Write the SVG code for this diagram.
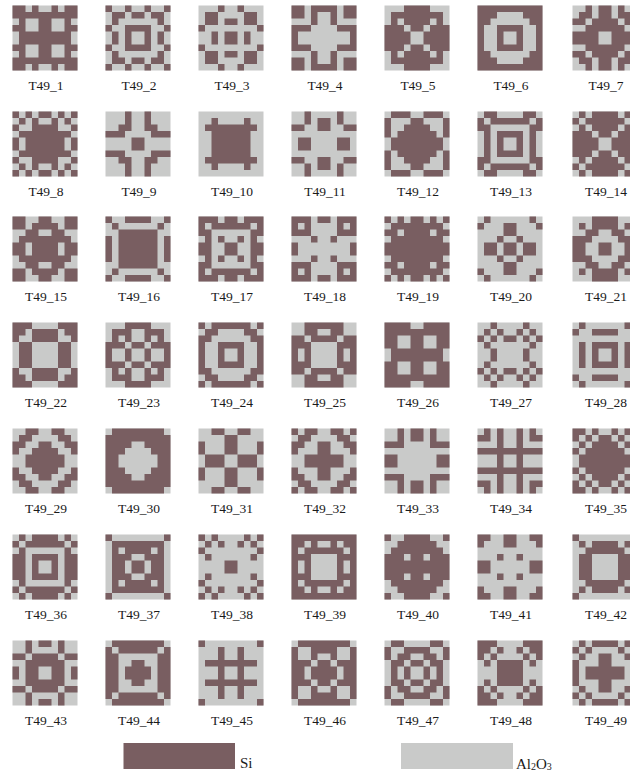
<svg xmlns="http://www.w3.org/2000/svg" xmlns:xlink="http://www.w3.org/1999/xlink" width="630" height="773" viewBox="0 0 630 773">
<style>
.b{fill:#c9cac9}
.s{fill:#795e61}
.lbl{font-family:"Liberation Serif","Times New Roman",serif;font-size:13.5px;text-anchor:middle;fill:#1a1a1a}
.leg{font-family:"Liberation Serif","Times New Roman",serif;font-size:15px;fill:#1a1a1a}
</style>
<rect width="630" height="773" fill="#ffffff"/>
<g id="tiles">
<g id="T49_1"><g transform="translate(12.5 5.5) scale(6.5)"><rect class="b" width="10" height="10"/><path id="q1" class="s" d="M0 0h2v1h-2zM3 0h1v1h-1zM0 1h5v1h-5zM1 2h1v1h-1zM4 2h1v1h-1zM0 3h2v1h-2zM4 3h1v1h-1zM1 4h4v1h-4z"/><use href="#q1" transform="matrix(-1 0 0 1 10 0)"/><use href="#q1" transform="matrix(1 0 0 -1 0 10)"/><use href="#q1" transform="matrix(-1 0 0 -1 10 10)"/></g><text class="lbl" x="46" y="89.5">T49_1</text></g>
<g id="T49_2"><g transform="translate(105.5 5.5) scale(6.5)"><rect class="b" width="10" height="10"/><path id="q2" class="s" d="M0 0h1v1h-1zM3 0h1v1h-1zM1 1h2v1h-2zM4 1h1v1h-1zM1 2h1v1h-1zM0 3h1v1h-1zM3 3h2v1h-2zM1 4h1v1h-1zM3 4h1v1h-1z"/><use href="#q2" transform="matrix(-1 0 0 1 10 0)"/><use href="#q2" transform="matrix(1 0 0 -1 0 10)"/><use href="#q2" transform="matrix(-1 0 0 -1 10 10)"/></g><text class="lbl" x="139" y="89.5">T49_2</text></g>
<g id="T49_3"><g transform="translate(198.5 5.5) scale(6.5)"><rect class="b" width="10" height="10"/><path id="q3" class="s" d="M3 0h1v1h-1zM1 1h2v1h-2zM1 2h2v1h-2zM4 2h1v1h-1zM0 3h1v1h-1zM2 4h1v1h-1zM4 4h1v1h-1z"/><use href="#q3" transform="matrix(-1 0 0 1 10 0)"/><use href="#q3" transform="matrix(1 0 0 -1 0 10)"/><use href="#q3" transform="matrix(-1 0 0 -1 10 10)"/></g><text class="lbl" x="232" y="89.5">T49_3</text></g>
<g id="T49_4"><g transform="translate(291.5 5.5) scale(6.5)"><rect class="b" width="10" height="10"/><path id="q4" class="s" d="M0 0h2v1h-2zM3 0h2v1h-2zM0 1h2v1h-2zM3 1h1v1h-1zM3 2h1v1h-1zM0 3h3v1h-3zM0 4h1v1h-1z"/><use href="#q4" transform="matrix(-1 0 0 1 10 0)"/><use href="#q4" transform="matrix(1 0 0 -1 0 10)"/><use href="#q4" transform="matrix(-1 0 0 -1 10 10)"/></g><text class="lbl" x="325" y="89.5">T49_4</text></g>
<g id="T49_5"><g transform="translate(384.5 5.5) scale(6.5)"><rect class="b" width="10" height="10"/><path id="q5" class="s" d="M3 0h2v1h-2zM1 1h4v1h-4zM1 2h1v1h-1zM3 2h2v1h-2zM0 3h3v1h-3zM4 3h1v1h-1zM0 4h4v1h-4z"/><use href="#q5" transform="matrix(-1 0 0 1 10 0)"/><use href="#q5" transform="matrix(1 0 0 -1 0 10)"/><use href="#q5" transform="matrix(-1 0 0 -1 10 10)"/></g><text class="lbl" x="418" y="89.5">T49_5</text></g>
<g id="T49_6"><g transform="translate(477.5 5.5) scale(6.5)"><rect class="b" width="10" height="10"/><path id="q6" class="s" d="M0 0h5v1h-5zM0 1h3v1h-3zM0 2h2v1h-2zM0 3h1v1h-1zM3 3h2v1h-2zM0 4h1v1h-1zM3 4h1v1h-1z"/><use href="#q6" transform="matrix(-1 0 0 1 10 0)"/><use href="#q6" transform="matrix(1 0 0 -1 0 10)"/><use href="#q6" transform="matrix(-1 0 0 -1 10 10)"/></g><text class="lbl" x="511" y="89.5">T49_6</text></g>
<g id="T49_7"><g transform="translate(572.5 5.5) scale(6.5)"><rect class="b" width="10" height="10"/><path id="q7" class="s" d="M2 0h1v1h-1zM4 0h1v1h-1zM1 1h2v1h-2zM4 1h1v1h-1zM0 2h2v1h-2zM3 2h2v1h-2zM2 3h3v1h-3zM0 4h4v1h-4z"/><use href="#q7" transform="matrix(-1 0 0 1 10 0)"/><use href="#q7" transform="matrix(1 0 0 -1 0 10)"/><use href="#q7" transform="matrix(-1 0 0 -1 10 10)"/></g><text class="lbl" x="606" y="89.5">T49_7</text></g>

<g id="T49_8"><g transform="translate(12.5 111.5) scale(6.5)"><rect class="b" width="10" height="10"/><path id="q8" class="s" d="M0 0h1v1h-1zM2 0h1v1h-1zM4 0h1v1h-1zM1 1h1v1h-1zM3 1h1v1h-1zM0 2h1v1h-1zM3 2h2v1h-2zM1 3h4v1h-4zM0 4h1v1h-1zM2 4h3v1h-3z"/><use href="#q8" transform="matrix(-1 0 0 1 10 0)"/><use href="#q8" transform="matrix(1 0 0 -1 0 10)"/><use href="#q8" transform="matrix(-1 0 0 -1 10 10)"/></g><text class="lbl" x="46" y="195.5">T49_8</text></g>
<g id="T49_9"><g transform="translate(105.5 111.5) scale(6.5)"><rect class="b" width="10" height="10"/><path id="q9" class="s" d="M3 0h1v1h-1zM3 1h1v1h-1zM2 2h2v1h-2zM0 3h3v1h-3zM4 4h1v1h-1z"/><use href="#q9" transform="matrix(-1 0 0 1 10 0)"/><use href="#q9" transform="matrix(1 0 0 -1 0 10)"/><use href="#q9" transform="matrix(-1 0 0 -1 10 10)"/></g><text class="lbl" x="139" y="195.5">T49_9</text></g>
<g id="T49_10"><g transform="translate(198.5 111.5) scale(6.5)"><rect class="b" width="10" height="10"/><path id="q10" class="s" d="M2 1h1v1h-1zM1 2h4v1h-4zM2 3h3v1h-3zM2 4h3v1h-3z"/><use href="#q10" transform="matrix(-1 0 0 1 10 0)"/><use href="#q10" transform="matrix(1 0 0 -1 0 10)"/><use href="#q10" transform="matrix(-1 0 0 -1 10 10)"/></g><text class="lbl" x="232" y="195.5">T49_10</text></g>
<g id="T49_11"><g transform="translate(291.5 111.5) scale(6.5)"><rect class="b" width="10" height="10"/><path id="q11" class="s" d="M2 0h1v1h-1zM2 1h1v1h-1zM4 1h1v1h-1zM0 2h2v1h-2zM4 2h1v1h-1zM1 4h2v1h-2z"/><use href="#q11" transform="matrix(-1 0 0 1 10 0)"/><use href="#q11" transform="matrix(1 0 0 -1 0 10)"/><use href="#q11" transform="matrix(-1 0 0 -1 10 10)"/></g><text class="lbl" x="325" y="195.5">T49_11</text></g>
<g id="T49_12"><g transform="translate(384.5 111.5) scale(6.5)"><rect class="b" width="10" height="10"/><path id="q12" class="s" d="M1 0h3v1h-3zM0 1h1v1h-1zM4 1h1v1h-1zM0 2h1v1h-1zM3 2h2v1h-2zM0 3h1v1h-1zM2 3h3v1h-3zM1 4h4v1h-4z"/><use href="#q12" transform="matrix(-1 0 0 1 10 0)"/><use href="#q12" transform="matrix(1 0 0 -1 0 10)"/><use href="#q12" transform="matrix(-1 0 0 -1 10 10)"/></g><text class="lbl" x="418" y="195.5">T49_12</text></g>
<g id="T49_13"><g transform="translate(477.5 111.5) scale(6.5)"><rect class="b" width="10" height="10"/><path id="q13" class="s" d="M1 0h2v1h-2zM0 1h1v1h-1zM2 1h3v1h-3zM0 2h2v1h-2zM1 3h1v1h-1zM3 3h2v1h-2zM1 4h1v1h-1zM3 4h1v1h-1z"/><use href="#q13" transform="matrix(-1 0 0 1 10 0)"/><use href="#q13" transform="matrix(1 0 0 -1 0 10)"/><use href="#q13" transform="matrix(-1 0 0 -1 10 10)"/></g><text class="lbl" x="511" y="195.5">T49_13</text></g>
<g id="T49_14"><g transform="translate(572.5 111.5) scale(6.5)"><rect class="b" width="10" height="10"/><path id="q14" class="s" d="M1 0h1v1h-1zM3 0h2v1h-2zM0 1h1v1h-1zM2 1h3v1h-3zM1 2h1v1h-1zM3 2h2v1h-2zM0 3h3v1h-3zM4 3h1v1h-1zM0 4h4v1h-4z"/><use href="#q14" transform="matrix(-1 0 0 1 10 0)"/><use href="#q14" transform="matrix(1 0 0 -1 0 10)"/><use href="#q14" transform="matrix(-1 0 0 -1 10 10)"/></g><text class="lbl" x="606" y="195.5">T49_14</text></g>

<g id="T49_15"><g transform="translate(12.5 216.5) scale(6.5)"><rect class="b" width="10" height="10"/><path id="q15" class="s" d="M0 0h2v1h-2zM4 0h1v1h-1zM0 1h2v1h-2zM3 1h2v1h-2zM2 2h2v1h-2zM1 3h4v1h-4zM0 4h2v1h-2zM3 4h2v1h-2z"/><use href="#q15" transform="matrix(-1 0 0 1 10 0)"/><use href="#q15" transform="matrix(1 0 0 -1 0 10)"/><use href="#q15" transform="matrix(-1 0 0 -1 10 10)"/></g><text class="lbl" x="46" y="300.5">T49_15</text></g>
<g id="T49_16"><g transform="translate(105.5 216.5) scale(6.5)"><rect class="b" width="10" height="10"/><path id="q16" class="s" d="M0 0h1v1h-1zM3 0h2v1h-2zM1 1h1v1h-1zM2 2h3v1h-3zM0 3h1v1h-1zM2 3h3v1h-3zM0 4h1v1h-1zM2 4h3v1h-3z"/><use href="#q16" transform="matrix(-1 0 0 1 10 0)"/><use href="#q16" transform="matrix(1 0 0 -1 0 10)"/><use href="#q16" transform="matrix(-1 0 0 -1 10 10)"/></g><text class="lbl" x="139" y="300.5">T49_16</text></g>
<g id="T49_17"><g transform="translate(198.5 216.5) scale(6.5)"><rect class="b" width="10" height="10"/><path id="q17" class="s" d="M0 0h3v1h-3zM4 0h1v1h-1zM0 1h1v1h-1zM2 1h3v1h-3zM0 2h2v1h-2zM1 3h1v1h-1zM3 3h1v1h-1zM0 4h2v1h-2zM4 4h1v1h-1z"/><use href="#q17" transform="matrix(-1 0 0 1 10 0)"/><use href="#q17" transform="matrix(1 0 0 -1 0 10)"/><use href="#q17" transform="matrix(-1 0 0 -1 10 10)"/></g><text class="lbl" x="232" y="300.5">T49_17</text></g>
<g id="T49_18"><g transform="translate(291.5 216.5) scale(6.5)"><rect class="b" width="10" height="10"/><path id="q18" class="s" d="M0 0h3v1h-3zM4 0h1v1h-1zM0 1h1v1h-1zM2 1h1v1h-1zM0 2h3v1h-3zM3 3h1v1h-1zM0 4h1v1h-1z"/><use href="#q18" transform="matrix(-1 0 0 1 10 0)"/><use href="#q18" transform="matrix(1 0 0 -1 0 10)"/><use href="#q18" transform="matrix(-1 0 0 -1 10 10)"/></g><text class="lbl" x="325" y="300.5">T49_18</text></g>
<g id="T49_19"><g transform="translate(384.5 216.5) scale(6.5)"><rect class="b" width="10" height="10"/><path id="q19" class="s" d="M0 0h1v1h-1zM2 0h1v1h-1zM4 0h1v1h-1zM1 1h4v1h-4zM0 2h2v1h-2zM3 2h2v1h-2zM1 3h4v1h-4zM0 4h5v1h-5z"/><use href="#q19" transform="matrix(-1 0 0 1 10 0)"/><use href="#q19" transform="matrix(1 0 0 -1 0 10)"/><use href="#q19" transform="matrix(-1 0 0 -1 10 10)"/></g><text class="lbl" x="418" y="300.5">T49_19</text></g>
<g id="T49_20"><g transform="translate(477.5 216.5) scale(6.5)"><rect class="b" width="10" height="10"/><path id="q20" class="s" d="M1 0h1v1h-1zM0 1h1v1h-1zM4 1h1v1h-1zM4 2h1v1h-1zM3 3h1v1h-1zM1 4h2v1h-2zM4 4h1v1h-1z"/><use href="#q20" transform="matrix(-1 0 0 1 10 0)"/><use href="#q20" transform="matrix(1 0 0 -1 0 10)"/><use href="#q20" transform="matrix(-1 0 0 -1 10 10)"/></g><text class="lbl" x="511" y="300.5">T49_20</text></g>
<g id="T49_21"><g transform="translate(572.5 216.5) scale(6.5)"><rect class="b" width="10" height="10"/><path id="q21" class="s" d="M3 0h2v1h-2zM1 1h1v1h-1zM3 1h2v1h-2zM2 2h2v1h-2zM0 3h3v1h-3zM0 4h2v1h-2zM4 4h1v1h-1z"/><use href="#q21" transform="matrix(-1 0 0 1 10 0)"/><use href="#q21" transform="matrix(1 0 0 -1 0 10)"/><use href="#q21" transform="matrix(-1 0 0 -1 10 10)"/></g><text class="lbl" x="606" y="300.5">T49_21</text></g>

<g id="T49_22"><g transform="translate(12.5 322.5) scale(6.5)"><rect class="b" width="10" height="10"/><path id="q22" class="s" d="M0 0h3v1h-3zM0 1h2v1h-2zM3 1h2v1h-2zM0 2h1v1h-1zM3 2h2v1h-2zM1 3h2v1h-2zM1 4h2v1h-2z"/><use href="#q22" transform="matrix(-1 0 0 1 10 0)"/><use href="#q22" transform="matrix(1 0 0 -1 0 10)"/><use href="#q22" transform="matrix(-1 0 0 -1 10 10)"/></g><text class="lbl" x="46" y="406.5">T49_22</text></g>
<g id="T49_23"><g transform="translate(105.5 322.5) scale(6.5)"><rect class="b" width="10" height="10"/><path id="q23" class="s" d="M3 0h2v1h-2zM1 1h3v1h-3zM1 2h1v1h-1zM3 2h1v1h-1zM0 3h3v1h-3zM4 3h1v1h-1zM0 4h1v1h-1zM3 4h1v1h-1z"/><use href="#q23" transform="matrix(-1 0 0 1 10 0)"/><use href="#q23" transform="matrix(1 0 0 -1 0 10)"/><use href="#q23" transform="matrix(-1 0 0 -1 10 10)"/></g><text class="lbl" x="139" y="406.5">T49_23</text></g>
<g id="T49_24"><g transform="translate(198.5 322.5) scale(6.5)"><rect class="b" width="10" height="10"/><path id="q24" class="s" d="M0 0h1v1h-1zM2 0h3v1h-3zM1 1h2v1h-2zM0 2h2v1h-2zM0 3h1v1h-1zM3 3h2v1h-2zM0 4h1v1h-1zM3 4h1v1h-1z"/><use href="#q24" transform="matrix(-1 0 0 1 10 0)"/><use href="#q24" transform="matrix(1 0 0 -1 0 10)"/><use href="#q24" transform="matrix(-1 0 0 -1 10 10)"/></g><text class="lbl" x="232" y="406.5">T49_24</text></g>
<g id="T49_25"><g transform="translate(291.5 322.5) scale(6.5)"><rect class="b" width="10" height="10"/><path id="q25" class="s" d="M2 0h3v1h-3zM2 1h2v1h-2zM0 2h2v1h-2zM3 2h2v1h-2zM0 3h3v1h-3zM0 4h1v1h-1zM2 4h1v1h-1z"/><use href="#q25" transform="matrix(-1 0 0 1 10 0)"/><use href="#q25" transform="matrix(1 0 0 -1 0 10)"/><use href="#q25" transform="matrix(-1 0 0 -1 10 10)"/></g><text class="lbl" x="325" y="406.5">T49_25</text></g>
<g id="T49_26"><g transform="translate(384.5 322.5) scale(6.5)"><rect class="b" width="10" height="10"/><path id="q26" class="s" d="M0 0h4v1h-4zM0 1h5v1h-5zM0 2h2v1h-2zM4 2h1v1h-1zM0 3h2v1h-2zM4 3h1v1h-1zM1 4h4v1h-4z"/><use href="#q26" transform="matrix(-1 0 0 1 10 0)"/><use href="#q26" transform="matrix(1 0 0 -1 0 10)"/><use href="#q26" transform="matrix(-1 0 0 -1 10 10)"/></g><text class="lbl" x="418" y="406.5">T49_26</text></g>
<g id="T49_27"><g transform="translate(477.5 322.5) scale(6.5)"><rect class="b" width="10" height="10"/><path id="q27" class="s" d="M2 0h1v1h-1zM1 1h1v1h-1zM3 1h1v1h-1zM0 2h1v1h-1zM2 2h1v1h-1zM4 2h1v1h-1zM1 3h1v1h-1zM2 4h1v1h-1z"/><use href="#q27" transform="matrix(-1 0 0 1 10 0)"/><use href="#q27" transform="matrix(1 0 0 -1 0 10)"/><use href="#q27" transform="matrix(-1 0 0 -1 10 10)"/></g><text class="lbl" x="511" y="406.5">T49_27</text></g>
<g id="T49_28"><g transform="translate(572.5 322.5) scale(6.5)"><rect class="b" width="10" height="10"/><path id="q28" class="s" d="M1 0h1v1h-1zM0 1h1v1h-1zM3 1h2v1h-2zM1 3h1v1h-1zM3 3h2v1h-2zM1 4h1v1h-1zM3 4h1v1h-1z"/><use href="#q28" transform="matrix(-1 0 0 1 10 0)"/><use href="#q28" transform="matrix(1 0 0 -1 0 10)"/><use href="#q28" transform="matrix(-1 0 0 -1 10 10)"/></g><text class="lbl" x="606" y="406.5">T49_28</text></g>

<g id="T49_29"><g transform="translate(12.5 428.5) scale(6.5)"><rect class="b" width="10" height="10"/><path id="q29" class="s" d="M2 0h2v1h-2zM1 1h2v1h-2zM0 2h2v1h-2zM4 2h1v1h-1zM0 3h1v1h-1zM3 3h2v1h-2zM2 4h3v1h-3z"/><use href="#q29" transform="matrix(-1 0 0 1 10 0)"/><use href="#q29" transform="matrix(1 0 0 -1 0 10)"/><use href="#q29" transform="matrix(-1 0 0 -1 10 10)"/></g><text class="lbl" x="46" y="512.5">T49_29</text></g>
<g id="T49_30"><g transform="translate(105.5 428.5) scale(6.5)"><rect class="b" width="10" height="10"/><path id="q30" class="s" d="M1 0h4v1h-4zM0 1h5v1h-5zM0 2h4v1h-4zM0 3h3v1h-3zM0 4h2v1h-2z"/><use href="#q30" transform="matrix(-1 0 0 1 10 0)"/><use href="#q30" transform="matrix(1 0 0 -1 0 10)"/><use href="#q30" transform="matrix(-1 0 0 -1 10 10)"/></g><text class="lbl" x="139" y="512.5">T49_30</text></g>
<g id="T49_31"><g transform="translate(198.5 428.5) scale(6.5)"><rect class="b" width="10" height="10"/><path id="q31" class="s" d="M2 0h2v1h-2zM4 1h1v1h-1zM0 2h1v1h-1zM4 2h1v1h-1zM0 3h1v1h-1zM4 3h1v1h-1zM1 4h3v1h-3z"/><use href="#q31" transform="matrix(-1 0 0 1 10 0)"/><use href="#q31" transform="matrix(1 0 0 -1 0 10)"/><use href="#q31" transform="matrix(-1 0 0 -1 10 10)"/></g><text class="lbl" x="232" y="512.5">T49_31</text></g>
<g id="T49_32"><g transform="translate(291.5 428.5) scale(6.5)"><rect class="b" width="10" height="10"/><path id="q32" class="s" d="M0 0h1v1h-1zM2 0h2v1h-2zM1 1h2v1h-2zM0 2h2v1h-2zM4 2h1v1h-1zM0 3h1v1h-1zM4 3h1v1h-1zM2 4h3v1h-3z"/><use href="#q32" transform="matrix(-1 0 0 1 10 0)"/><use href="#q32" transform="matrix(1 0 0 -1 0 10)"/><use href="#q32" transform="matrix(-1 0 0 -1 10 10)"/></g><text class="lbl" x="325" y="512.5">T49_32</text></g>
<g id="T49_33"><g transform="translate(384.5 428.5) scale(6.5)"><rect class="b" width="10" height="10"/><path id="q33" class="s" d="M2 0h1v1h-1zM4 0h1v1h-1zM2 1h1v1h-1zM4 1h1v1h-1zM0 2h3v1h-3zM0 4h2v1h-2z"/><use href="#q33" transform="matrix(-1 0 0 1 10 0)"/><use href="#q33" transform="matrix(1 0 0 -1 0 10)"/><use href="#q33" transform="matrix(-1 0 0 -1 10 10)"/></g><text class="lbl" x="418" y="512.5">T49_33</text></g>
<g id="T49_34"><g transform="translate(477.5 428.5) scale(6.5)"><rect class="b" width="10" height="10"/><path id="q34" class="s" d="M1 0h1v1h-1zM3 0h1v1h-1zM0 1h2v1h-2zM3 1h1v1h-1zM3 2h1v1h-1zM0 3h5v1h-5zM3 4h1v1h-1z"/><use href="#q34" transform="matrix(-1 0 0 1 10 0)"/><use href="#q34" transform="matrix(1 0 0 -1 0 10)"/><use href="#q34" transform="matrix(-1 0 0 -1 10 10)"/></g><text class="lbl" x="511" y="512.5">T49_34</text></g>
<g id="T49_35"><g transform="translate(572.5 428.5) scale(6.5)"><rect class="b" width="10" height="10"/><path id="q35" class="s" d="M0 0h2v1h-2zM3 0h1v1h-1zM0 1h1v1h-1zM2 1h1v1h-1zM4 1h1v1h-1zM1 2h1v1h-1zM3 2h2v1h-2zM0 3h1v1h-1zM2 3h3v1h-3zM1 4h4v1h-4z"/><use href="#q35" transform="matrix(-1 0 0 1 10 0)"/><use href="#q35" transform="matrix(1 0 0 -1 0 10)"/><use href="#q35" transform="matrix(-1 0 0 -1 10 10)"/></g><text class="lbl" x="606" y="512.5">T49_35</text></g>

<g id="T49_36"><g transform="translate(12.5 534.5) scale(6.5)"><rect class="b" width="10" height="10"/><path id="q36" class="s" d="M1 0h1v1h-1zM3 0h2v1h-2zM0 1h1v1h-1zM2 1h3v1h-3zM1 2h1v1h-1zM0 3h2v1h-2zM3 3h2v1h-2zM0 4h2v1h-2zM3 4h1v1h-1z"/><use href="#q36" transform="matrix(-1 0 0 1 10 0)"/><use href="#q36" transform="matrix(1 0 0 -1 0 10)"/><use href="#q36" transform="matrix(-1 0 0 -1 10 10)"/></g><text class="lbl" x="46" y="618.5">T49_36</text></g>
<g id="T49_37"><g transform="translate(105.5 534.5) scale(6.5)"><rect class="b" width="10" height="10"/><path id="q37" class="s" d="M0 0h1v1h-1zM1 1h4v1h-4zM1 2h1v1h-1zM3 2h2v1h-2zM1 3h3v1h-3zM1 4h2v1h-2zM4 4h1v1h-1z"/><use href="#q37" transform="matrix(-1 0 0 1 10 0)"/><use href="#q37" transform="matrix(1 0 0 -1 0 10)"/><use href="#q37" transform="matrix(-1 0 0 -1 10 10)"/></g><text class="lbl" x="139" y="618.5">T49_37</text></g>
<g id="T49_38"><g transform="translate(198.5 534.5) scale(6.5)"><rect class="b" width="10" height="10"/><path id="q38" class="s" d="M0 0h1v1h-1zM2 0h1v1h-1zM1 1h1v1h-1zM3 1h1v1h-1zM0 2h1v1h-1zM1 3h1v1h-1zM4 4h1v1h-1z"/><use href="#q38" transform="matrix(-1 0 0 1 10 0)"/><use href="#q38" transform="matrix(1 0 0 -1 0 10)"/><use href="#q38" transform="matrix(-1 0 0 -1 10 10)"/></g><text class="lbl" x="232" y="618.5">T49_38</text></g>
<g id="T49_39"><g transform="translate(291.5 534.5) scale(6.5)"><rect class="b" width="10" height="10"/><path id="q39" class="s" d="M0 0h5v1h-5zM0 1h2v1h-2zM3 1h1v1h-1zM0 2h1v1h-1zM2 2h3v1h-3zM0 3h3v1h-3zM0 4h1v1h-1zM2 4h1v1h-1z"/><use href="#q39" transform="matrix(-1 0 0 1 10 0)"/><use href="#q39" transform="matrix(1 0 0 -1 0 10)"/><use href="#q39" transform="matrix(-1 0 0 -1 10 10)"/></g><text class="lbl" x="325" y="618.5">T49_39</text></g>
<g id="T49_40"><g transform="translate(384.5 534.5) scale(6.5)"><rect class="b" width="10" height="10"/><path id="q40" class="s" d="M0 0h1v1h-1zM3 0h2v1h-2zM2 1h3v1h-3zM1 2h4v1h-4zM0 3h3v1h-3zM4 3h1v1h-1zM0 4h5v1h-5z"/><use href="#q40" transform="matrix(-1 0 0 1 10 0)"/><use href="#q40" transform="matrix(1 0 0 -1 0 10)"/><use href="#q40" transform="matrix(-1 0 0 -1 10 10)"/></g><text class="lbl" x="418" y="618.5">T49_40</text></g>
<g id="T49_41"><g transform="translate(477.5 534.5) scale(6.5)"><rect class="b" width="10" height="10"/><path id="q41" class="s" d="M0 0h2v1h-2zM4 0h1v1h-1zM0 1h1v1h-1zM4 1h1v1h-1zM3 3h1v1h-1zM0 4h2v1h-2z"/><use href="#q41" transform="matrix(-1 0 0 1 10 0)"/><use href="#q41" transform="matrix(1 0 0 -1 0 10)"/><use href="#q41" transform="matrix(-1 0 0 -1 10 10)"/></g><text class="lbl" x="511" y="618.5">T49_41</text></g>
<g id="T49_42"><g transform="translate(572.5 534.5) scale(6.5)"><rect class="b" width="10" height="10"/><path id="q42" class="s" d="M0 0h1v1h-1zM1 1h1v1h-1zM3 1h2v1h-2zM2 2h3v1h-3zM1 3h2v1h-2zM1 4h2v1h-2z"/><use href="#q42" transform="matrix(-1 0 0 1 10 0)"/><use href="#q42" transform="matrix(1 0 0 -1 0 10)"/><use href="#q42" transform="matrix(-1 0 0 -1 10 10)"/></g><text class="lbl" x="606" y="618.5">T49_42</text></g>

<g id="T49_43"><g transform="translate(12.5 640.5) scale(6.5)"><rect class="b" width="10" height="10"/><path id="q43" class="s" d="M2 0h1v1h-1zM4 0h1v1h-1zM2 1h1v1h-1zM0 2h2v1h-2zM3 2h2v1h-2zM2 3h3v1h-3zM0 4h1v1h-1zM2 4h2v1h-2z"/><use href="#q43" transform="matrix(-1 0 0 1 10 0)"/><use href="#q43" transform="matrix(1 0 0 -1 0 10)"/><use href="#q43" transform="matrix(-1 0 0 -1 10 10)"/></g><text class="lbl" x="46" y="724.5">T49_43</text></g>
<g id="T49_44"><g transform="translate(105.5 640.5) scale(6.5)"><rect class="b" width="10" height="10"/><path id="q44" class="s" d="M1 0h4v1h-4zM0 1h1v1h-1zM2 1h3v1h-3zM0 2h2v1h-2zM0 3h2v1h-2zM4 3h1v1h-1zM0 4h2v1h-2zM3 4h2v1h-2z"/><use href="#q44" transform="matrix(-1 0 0 1 10 0)"/><use href="#q44" transform="matrix(1 0 0 -1 0 10)"/><use href="#q44" transform="matrix(-1 0 0 -1 10 10)"/></g><text class="lbl" x="139" y="724.5">T49_44</text></g>
<g id="T49_45"><g transform="translate(198.5 640.5) scale(6.5)"><rect class="b" width="10" height="10"/><path id="q45" class="s" d="M0 0h1v1h-1zM3 1h1v1h-1zM3 2h1v1h-1zM1 3h4v1h-4zM3 4h1v1h-1z"/><use href="#q45" transform="matrix(-1 0 0 1 10 0)"/><use href="#q45" transform="matrix(1 0 0 -1 0 10)"/><use href="#q45" transform="matrix(-1 0 0 -1 10 10)"/></g><text class="lbl" x="232" y="724.5">T49_45</text></g>
<g id="T49_46"><g transform="translate(291.5 640.5) scale(6.5)"><rect class="b" width="10" height="10"/><path id="q46" class="s" d="M1 0h4v1h-4zM0 1h1v1h-1zM3 1h2v1h-2zM0 2h1v1h-1zM3 2h1v1h-1zM0 3h3v1h-3zM4 3h1v1h-1zM0 4h2v1h-2zM3 4h2v1h-2z"/><use href="#q46" transform="matrix(-1 0 0 1 10 0)"/><use href="#q46" transform="matrix(1 0 0 -1 0 10)"/><use href="#q46" transform="matrix(-1 0 0 -1 10 10)"/></g><text class="lbl" x="325" y="724.5">T49_46</text></g>
<g id="T49_47"><g transform="translate(384.5 640.5) scale(6.5)"><rect class="b" width="10" height="10"/><path id="q47" class="s" d="M1 0h2v1h-2zM0 1h1v1h-1zM3 1h2v1h-2zM0 2h1v1h-1zM2 2h2v1h-2zM1 3h2v1h-2zM4 3h1v1h-1zM1 4h1v1h-1zM3 4h1v1h-1z"/><use href="#q47" transform="matrix(-1 0 0 1 10 0)"/><use href="#q47" transform="matrix(1 0 0 -1 0 10)"/><use href="#q47" transform="matrix(-1 0 0 -1 10 10)"/></g><text class="lbl" x="418" y="724.5">T49_47</text></g>
<g id="T49_48"><g transform="translate(477.5 640.5) scale(6.5)"><rect class="b" width="10" height="10"/><path id="q48" class="s" d="M0 0h3v1h-3zM0 1h2v1h-2zM3 1h1v1h-1zM0 2h1v1h-1zM2 2h1v1h-1zM1 3h1v1h-1zM3 3h2v1h-2zM3 4h2v1h-2z"/><use href="#q48" transform="matrix(-1 0 0 1 10 0)"/><use href="#q48" transform="matrix(1 0 0 -1 0 10)"/><use href="#q48" transform="matrix(-1 0 0 -1 10 10)"/></g><text class="lbl" x="511" y="724.5">T49_48</text></g>
<g id="T49_49"><g transform="translate(572.5 640.5) scale(6.5)"><rect class="b" width="10" height="10"/><path id="q49" class="s" d="M1 0h1v1h-1zM3 0h2v1h-2zM0 1h1v1h-1zM2 1h1v1h-1zM1 2h1v1h-1zM4 2h1v1h-1zM0 3h1v1h-1zM4 3h1v1h-1zM0 4h1v1h-1zM2 4h3v1h-3z"/><use href="#q49" transform="matrix(-1 0 0 1 10 0)"/><use href="#q49" transform="matrix(1 0 0 -1 0 10)"/><use href="#q49" transform="matrix(-1 0 0 -1 10 10)"/></g><text class="lbl" x="606" y="724.5">T49_49</text></g>
</g>
<g id="connectors"/>
<g id="legend">
<g id="legend_si"><rect class="s" x="123.5" y="743" width="111.5" height="26"/><text class="leg" x="240" y="767.5">Si</text></g>
<g id="legend_al2o3"><rect class="b" x="401" y="743" width="112" height="26"/><text class="leg" x="516" y="768.5">Al<tspan font-size="10" dy="1.5">2</tspan><tspan dy="-1.5">O</tspan><tspan font-size="10" dy="1.5">3</tspan></text></g>
</g>
</svg>
